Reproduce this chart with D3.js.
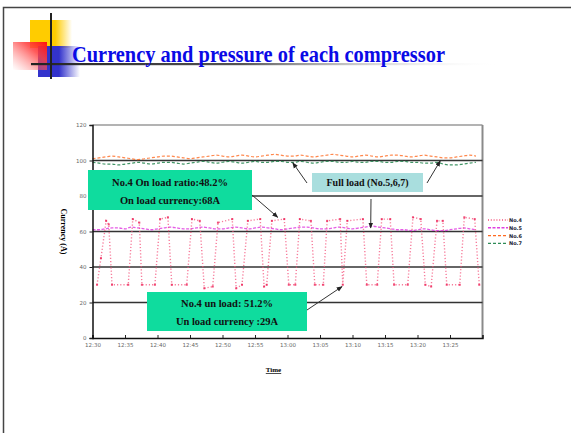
<!DOCTYPE html>
<html>
<head>
<meta charset="utf-8">
<script src="https://cdn.jsdelivr.net/npm/d3@7/dist/d3.min.js"></script>
<style>
  html, body { margin: 0; padding: 0; background: #fff; }
  svg { display: block; }
</style>
</head>
<body>
<svg id="slide" width="571" height="433"></svg>
<script>
// Minutes after 12:30, one sample per minute for the full-load compressors
const minutes = d3.range(0, 60);
const tickMinutes = [0, 5, 10, 15, 20, 25, 30, 35, 40, 45, 50, 55];
const tickLabels = ["12:30", "12:35", "12:40", "12:45", "12:50", "12:55", "13:00", "13:05", "13:10", "13:15", "13:20", "13:25"];
const yTicks = [0, 20, 40, 60, 80, 100, 120];
const gridValues = [20, 40, 60, 80, 100];

// No.4 cycles between load and unload: [minute, current A]
const no4Time = [0.7, 1.3, 2.1, 2.5, 3.0, 5.5, 6.2, 7.2, 7.6, 9.6, 10.4, 11.6, 12.2, 14.5, 15.3, 16.5, 17.2, 18.5, 19.3, 21.5, 22.1, 23.0, 23.9, 25.8, 26.4, 26.8, 27.6, 29.5, 30.2, 31.2, 31.9, 33.6, 34.2, 35.5, 36.1, 38.1, 38.5, 39.2, 41.6, 42.2, 43.8, 44.5, 45.8, 46.4, 48.5, 49.3, 50.5, 51.2, 52.1, 53.0, 53.9, 54.5, 56.5, 57.2, 58.8, 59.5];
const no4Value = [30, 45, 66, 64, 30, 30, 67, 65, 30, 30, 67, 68, 30, 30, 67, 66, 28, 29, 65, 67, 28, 30, 66, 67, 29, 30, 66, 67, 30, 30, 67, 66, 30, 30, 66, 67, 30, 66, 67, 30, 30, 67, 67, 30, 30, 68, 67, 30, 29, 66, 66, 30, 30, 68, 67, 30];

const no5 = [61, 61, 61.5, 62, 62, 61.5, 62.5, 62, 61.5, 61, 61.5, 62, 62.5, 62, 61.5, 61.5, 62, 62.5, 62, 61.5, 61.5, 62, 62.5, 62, 61.5, 62, 62.5, 62, 61.5, 61, 61.5, 62, 62.5, 62.5, 62, 61.5, 61.5, 62, 62.5, 62, 61.5, 62, 62.5, 63, 62.5, 62, 61.5, 61, 61, 60.5, 61, 61.5, 61, 60.5, 60.5, 61, 61.5, 62, 61.5, 61];
const no6 = [101, 101.5, 102, 102.5, 102, 101.5, 101, 100.5, 101, 101.5, 102, 102.5, 102.5, 102, 101.5, 101, 101.5, 102, 102.5, 103, 102.5, 102, 102.5, 103, 102.5, 102, 102.5, 103, 103.5, 103, 102.5, 102.5, 103, 102.5, 102, 102.5, 103, 103.5, 103, 102.5, 102, 102.5, 103, 102.5, 102, 102.5, 103, 103, 102.5, 102, 102.5, 103, 102.5, 102, 101.5, 101.5, 102, 102.5, 103, 102.5];
const no7 = [99, 98.5, 98, 98, 97.5, 98, 98.5, 99, 98.5, 98, 98.5, 99, 99, 98.5, 98, 98.5, 99, 99.5, 99, 98.5, 99, 99.5, 99, 98.5, 99, 99.5, 99, 99, 99.5, 99.5, 99, 99, 99.5, 99, 98.5, 99, 99.5, 99.5, 99, 99, 99.5, 99, 99, 99.5, 99.5, 99, 99, 99.5, 99.5, 99, 99, 98.5, 98.5, 99, 98, 97.5, 97.5, 98, 98.5, 99];

const seriesNames = ["No.4", "No.5", "No.6", "No.7"];
const seriesColors = ["#f4507a", "#e040e0", "#ff6a20", "#2e8b57"];

const svg = d3.select("#slide");
const defs = svg.append("defs");

// ---------- slide frame and title decoration ----------
svg.append("rect").attr("x", 3.5).attr("y", 7.5).attr("width", 580).attr("height", 440)
  .attr("fill", "none").attr("stroke", "#444").attr("stroke-width", 1.5);

function linGrad(id, x1, y1, x2, y2, stops) {
  const g = defs.append("linearGradient").attr("id", id)
    .attr("x1", x1).attr("y1", y1).attr("x2", x2).attr("y2", y2);
  stops.forEach(s => g.append("stop").attr("offset", s[0]).attr("stop-color", s[1]).attr("stop-opacity", s[2]));
}
linGrad("gYellow", 0, 0, 1, 0, [[0, "#ffcc00", 1], [0.6, "#ffcc00", 1], [1, "#ffcc00", 0]]);
linGrad("gRed", 1, 0, 0, 1, [[0, "#ff1010", 1], [0.35, "#ff4040", 0.85], [1, "#ff8080", 0]]);
linGrad("gBlue", 0, 0, 1, 0, [[0, "#3333cc", 1], [0.5, "#3333cc", 1], [1, "#3333cc", 0]]);
linGrad("gRule", 0, 0, 1, 0, [[0, "#222", 1], [0.45, "#555", 1], [1, "#fff", 0]]);

svg.append("rect").attr("x", 30).attr("y", 20).attr("width", 42).attr("height", 28).attr("fill", "url(#gYellow)");
svg.append("rect").attr("x", 38).attr("y", 46).attr("width", 42).attr("height", 31).attr("fill", "url(#gBlue)");
svg.append("rect").attr("x", 13).attr("y", 42).attr("width", 34).attr("height", 28).attr("fill", "url(#gRed)");
svg.append("rect").attr("x", 31).attr("y", 63).attr("width", 470).attr("height", 2.2).attr("fill", "url(#gRule)");
svg.append("rect").attr("x", 50).attr("y", 13).attr("width", 2).attr("height", 66).attr("fill", "#222");

svg.append("text").attr("x", 72).attr("y", 61.5)
  .attr("textLength", 373).attr("lengthAdjust", "spacingAndGlyphs")
  .style("font-family", "'Liberation Serif', 'Times New Roman', serif")
  .style("font-weight", "bold").style("font-size", "22.5px").attr("fill", "#0a0ae6")
  .text("Currency and pressure of each compressor");

// ---------- chart ----------
const plot = { left: 92.5, right: 482.5, top: 125, bottom: 338 };
const x = d3.scaleLinear().domain([0, 60]).range([plot.left, plot.right]);
const y = d3.scaleLinear().domain([0, 120]).range([plot.bottom, plot.top]);

const chart = svg.append("g");

// plot frame (top and right in grey)
chart.append("line").attr("x1", plot.left).attr("x2", plot.right).attr("y1", plot.top).attr("y2", plot.top)
  .attr("stroke", "#9a9a9a").attr("stroke-width", 1.5);
chart.append("line").attr("x1", plot.right).attr("x2", plot.right).attr("y1", plot.top).attr("y2", plot.bottom)
  .attr("stroke", "#8a8a8a").attr("stroke-width", 2);

// horizontal grid
chart.selectAll("line.grid").data(gridValues).join("line").attr("class", "grid")
  .attr("x1", plot.left).attr("x2", plot.right)
  .attr("y1", d => y(d)).attr("y2", d => y(d))
  .attr("stroke", "#333").attr("stroke-width", 1.3);

// series
const line = d3.line().x(d => x(d[0])).y(d => y(d[1]));
const no4Pts = no4Time.map((t, i) => [t, no4Value[i]]);

chart.append("path").datum(minutes.map((t, i) => [t, no6[i]])).attr("d", line.curve(d3.curveMonotoneX))
  .attr("fill", "none").attr("stroke", seriesColors[2]).attr("stroke-width", 1.2)
  .attr("stroke-dasharray", "3,2").attr("opacity", 0.8);
chart.append("path").datum(minutes.map((t, i) => [t, no7[i]])).attr("d", line.curve(d3.curveMonotoneX))
  .attr("fill", "none").attr("stroke", seriesColors[3]).attr("stroke-width", 1.2)
  .attr("stroke-dasharray", "3,2").attr("opacity", 0.9);
chart.append("path").datum(minutes.map((t, i) => [t, no5[i]])).attr("d", line.curve(d3.curveMonotoneX))
  .attr("fill", "none").attr("stroke", seriesColors[1]).attr("stroke-width", 1.3)
  .attr("stroke-dasharray", "3,1.5").attr("opacity", 0.85);
chart.append("path").datum(no4Pts).attr("d", line.curve(d3.curveLinear))
  .attr("fill", "none").attr("stroke", seriesColors[0]).attr("stroke-width", 1.4)
  .attr("stroke-dasharray", "1.2,2").attr("opacity", 0.75);
chart.selectAll("rect.no4").data(no4Pts).join("rect").attr("class", "no4")
  .attr("x", d => x(d[0]) - 1).attr("y", d => y(d[1]) - 1).attr("width", 2).attr("height", 2)
  .attr("fill", "#ee1f55").attr("opacity", 0.8);

// axes
const xAxis = d3.axisBottom(x).tickValues(tickMinutes).tickFormat((d, i) => tickLabels[i]).tickSize(-3).tickPadding(5);
const gx = chart.append("g").attr("transform", `translate(0,${plot.bottom})`).call(xAxis);
const yAxis = d3.axisLeft(y).tickValues(yTicks).tickSize(3).tickPadding(3);
const gy = chart.append("g").attr("transform", `translate(${plot.left},0)`).call(yAxis);
[gx, gy].forEach(g => {
  g.select(".domain").attr("stroke", "#111").attr("stroke-width", 1.5);
  g.selectAll(".tick line").attr("stroke", "#222");
  g.selectAll(".tick text").style("font-family", "'DejaVu Sans', sans-serif")
    .style("font-size", "5.5px").attr("fill", "#666");
});

// axis titles
svg.append("text").attr("transform", `translate(61,${y(60)}) rotate(90)`)
  .attr("text-anchor", "middle")
  .style("font-family", "'Liberation Serif', serif").style("font-weight", "bold").style("font-size", "8px")
  .text("Currency (A)");
svg.append("text").attr("x", (plot.left + plot.right) / 2 - 14).attr("y", 372)
  .attr("text-anchor", "middle").attr("text-decoration", "underline")
  .style("font-family", "'Liberation Serif', serif").style("font-weight", "bold").style("font-size", "7px")
  .text("Time");

// legend
const legend = svg.append("g");
const legendDash = ["1,1.8", "3,1.5", "3,2", "3,2"];
seriesNames.forEach((name, i) => {
  const ly = 220 + i * 7.8;
  legend.append("line").attr("x1", 488).attr("x2", 508).attr("y1", ly).attr("y2", ly)
    .attr("stroke", seriesColors[i]).attr("stroke-width", 1.4).attr("stroke-dasharray", legendDash[i]);
  legend.append("text").attr("x", 509).attr("y", ly + 2)
    .style("font-family", "'DejaVu Sans', sans-serif").style("font-weight", "bold").style("font-size", "5px")
    .attr("fill", "#223").text(name);
});

// ---------- annotations ----------
const marker = defs.append("marker").attr("id", "arrow").attr("viewBox", "0 0 10 10")
  .attr("refX", 9).attr("refY", 5).attr("markerWidth", 6).attr("markerHeight", 6)
  .attr("orient", "auto-start-reverse");
marker.append("path").attr("d", "M0,1 L10,5 L0,9 Z").attr("fill", "#222");

const serif = "'Liberation Serif', 'Times New Roman', serif";
function arrow(x1, y1, tMin, val) {
  svg.append("line").attr("x1", x1).attr("y1", y1).attr("x2", x(tMin)).attr("y2", y(val))
    .attr("stroke", "#333").attr("stroke-width", 1).attr("marker-end", "url(#arrow)");
}
function box(bx, by, bw, bh, fill, lines, lineY, size) {
  svg.append("rect").attr("x", bx).attr("y", by).attr("width", bw).attr("height", bh).attr("fill", fill);
  lines.forEach((t, i) => svg.append("text").attr("x", bx + bw / 2).attr("y", lineY[i])
    .attr("text-anchor", "middle").style("font-family", serif).style("font-weight", "bold")
    .style("font-size", size + "px").attr("fill", "#111").text(t));
}

box(88, 170, 164, 40, "#0fdc9e", ["No.4 On load ratio:48.2%", "On load currency:68A"], [186, 204], 10.5);
arrow(252, 195, 28.5, 68);

box(147, 292, 160, 39, "#0fdc9e", ["No.4 un load: 51.2%", "Un load currency :29A"], [307, 325], 10.5);
arrow(307, 310, 38.4, 29);

box(312, 173, 111, 19, "#a9dede", ["Full load (No.5,6,7)"], [186], 10);
arrow(307, 183, 30.8, 98.8);
arrow(427, 183, 53.5, 99.8);
arrow(371, 199, 42.8, 62);
</script>
</body>
</html>
